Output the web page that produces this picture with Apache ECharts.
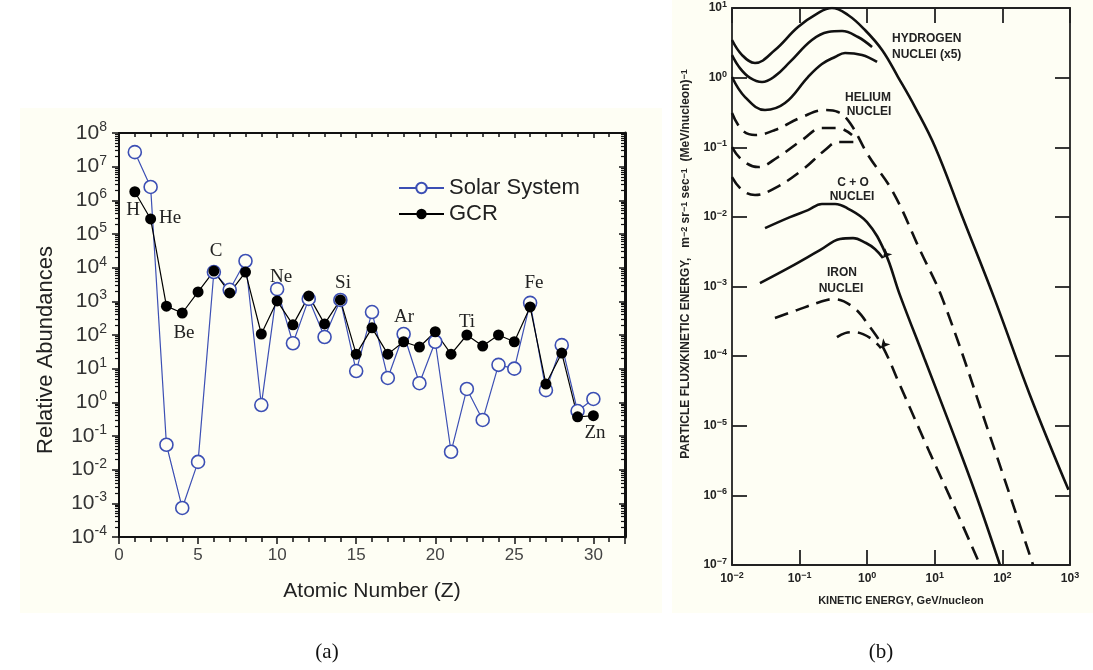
<!DOCTYPE html>
<html>
<head>
<meta charset="utf-8" />
<title>abundances and spectra</title>
<script src="https://cdn.jsdelivr.net/npm/echarts@6/dist/echarts.min.js"></script>
<style>
  html, body { margin: 0; padding: 0; background: #fff; }
  #chart { width: 1093px; height: 670px; }
</style>
</head>
<body>
<div id="chart"></div>
<script>
// ---- (a) relative abundances (Si = 10^3)
var atomicZ = [1,2,3,4,5,6,7,8,9,10,11,12,13,14,15,16,17,18,19,20,21,22,23,24,25,26,27,28,29,30];
var solarSystem = [2.7e7, 2.5e6, 0.055, 7.3e-4, 0.017, 7400, 2200, 15800, 0.83, 2300,
                   57, 1180, 87, 1100, 8.5, 480, 5.3, 107, 3.7, 63,
                   0.034, 2.5, 0.30, 13, 10, 900, 2.3, 50, 0.55, 1.26];
var gcr = [1.8e6, 2.8e5, 720, 450, 1900, 7900, 1780, 7400, 107, 1030,
           200, 1450, 214, 1100, 27, 163, 27, 63, 44, 125,
           27, 100, 47, 100, 63, 680, 3.5, 29, 0.37, 0.4];
var elementNames = ['H', 'He', 'Be', 'C', 'Ne', 'Si', 'Ar', 'Ti', 'Fe', 'Zn'];

// ---- (b) flux vs kinetic energy, [GeV/nucleon, flux]
var hydrogenA = [[0.01,3.47],[0.0141,2.11],[0.0219,1.62],[0.0432,2.49],[0.0946,5.33],[0.187,8.47],[0.301,10],
                 [0.52,7.93],[0.927,4.83],[1.66,2.49],[2.86,1.02],[5.1,0.378],[10.1,0.101],[25.3,0.0103],
                 [77.8,6.38e-4],[256,2.75e-5],[950,1.2e-6]];
var hydrogenB = [[0.01,2.11],[0.0131,1.37],[0.0185,0.99],[0.0278,0.865],[0.0432,1.05],[0.0721,1.68],
                 [0.152,3.47],[0.263,4.52],[0.424,4.67],[0.731,3.83],[1.18,2.75]];
var hydrogenC = [[0.01,1.02],[0.0156,0.526],[0.0308,0.342],[0.0608,0.431],[0.133,1.02],[0.214,1.57],
                 [0.334,1.98],[0.47,2.26],[0.838,2.11],[1.4,1.68]];
var heliumA = [[0.01,0.31],[0.0141,0.177],[0.0219,0.15],[0.0432,0.177],[0.109,0.272],[0.238,0.342],
               [0.37,0.321],[0.557,0.223],[1.03,0.0773],[2.41,0.0227],[6.04,3.33e-3],[13.2,6.38e-4],
               [65.6,7.1e-6],[284,1e-7]];
var heliumB = [[0.01,0.1007],[0.0141,0.0655],[0.0243,0.052],[0.0479,0.0723],[0.109,0.127],[0.214,0.189],
               [0.37,0.189],[0.596,0.15]];
var heliumC = [[0.01,0.0373],[0.0141,0.0243],[0.0219,0.0206],[0.0432,0.0259],[0.109,0.047],[0.238,0.0912],
               [0.37,0.119],[0.661,0.119]];
var carbonOxygenA = [[0.0308,6.9e-3],[0.0721,9.93e-3],[0.133,0.0125],[0.214,0.0153],[0.334,0.0153],
                     [0.502,0.0134],[0.993,8.4e-3],[1.83,3.12e-3],[3.05,7.52e-4],[7.16,8.77e-5],
                     [16.8,1.02e-5],[39.4,1.11e-6],[92,1e-7]];
var carbonOxygenB = [[0.0259,1.12e-3],[0.0721,1.9e-3],[0.2,3.33e-3],[0.396,4.8e-3],[0.617,4.96e-3],
                     [0.96,4.21e-3],[1.3,3.45e-3],[1.71,2.56e-3]];
var ironA = [[0.0432,3.52e-4],[0.0916,4.58e-4],[0.2,5.97e-4],[0.312,6.59e-4],[0.617,5.06e-4],[1.1,2.61e-4],
             [1.71,1.35e-4],[3.05,3.83e-5],[8.49,4.04e-6],[19.9,6.55e-7],[46.7,1e-7]];
var ironB = [[0.357,1.87e-4],[0.47,2.14e-4],[0.617,2.21e-4],[0.867,2.07e-4],[1.22,1.7e-4],[1.6,1.3e-4]];

var cream = '#fefef4';
var blue = '#3c4fb4';

// minor ticks of the log axis (a), in decades
var minorDecades = [];
for (var n = -4; n < 8; n++) {
  for (var k = 2; k <= 9; k++) minorDecades.push(n + Math.log10(k));
}
// major ticks of the log axis (a), in decades
var majorDecades = [];
for (var m = -4; m <= 8; m++) majorDecades.push(m);

function supA(v) {
  var e = Math.round(Math.log10(v));
  return '{b|10}{s|' + e + '}';
}
function supB(v) {
  var e = Math.round(Math.log10(v));
  return '{b|10}{s|' + (e < 0 ? '\u2212' + (-e) : e) + '}';
}

var richA = {
  b: { fontSize: 21, color: '#333', fontFamily: 'Liberation Sans', lineHeight: 26 },
  s: { fontSize: 14, color: '#333', fontFamily: 'Liberation Sans', lineHeight: 14, verticalAlign: 'top' }
};
var richB = {
  b: { fontSize: 12, color: '#222', fontFamily: 'Liberation Sans', fontWeight: 'bold', lineHeight: 16 },
  s: { fontSize: 9, color: '#222', fontFamily: 'Liberation Sans', fontWeight: 'bold', lineHeight: 9, verticalAlign: 'top' }
};

var axA = { onZero: false, lineStyle: { color: '#111', width: 2 } };
var axB = { onZero: false, lineStyle: { color: '#222', width: 1.8 } };

// arrowRot: optional arrowhead at the end of the curve (degrees)
function curve(data, dashed, arrowRot) {
  var pts = data.map(function (p, i) {
    if (arrowRot != null && i === data.length - 1) {
      return { value: p, symbol: 'arrow', symbolSize: [7, 9], symbolRotate: arrowRot, itemStyle: { color: '#111' } };
    }
    return { value: p, symbol: 'none' };
  });
  return {
    type: 'line', xAxisIndex: 2, yAxisIndex: 4, data: pts,
    showSymbol: true, smooth: 0.4, silent: true,
    lineStyle: { color: '#111', width: 2.6, type: dashed ? [14, 8] : 'solid' }
  };
}

var chart = echarts.init(document.getElementById('chart'));
var option = {
  backgroundColor: '#fff',
  animation: false,
  grid: [
    { left: 119, top: 133, width: 506, height: 404 },
    { left: 732, top: 8, width: 338, height: 557 }
  ],
  legend: {
    data: ['Solar System', 'GCR'],
    orient: 'vertical', left: 393, top: 172, itemWidth: 45, itemHeight: 13, itemGap: 4,
    textStyle: { fontSize: 22, fontFamily: 'Liberation Sans', color: '#222' }
  },
  xAxis: [
    { type: 'value', gridIndex: 0, min: 0, max: 32, interval: 5, position: 'bottom',
      axisLine: axA, splitLine: { show: false },
      axisTick: { inside: false, length: 7, lineStyle: { color: '#111', width: 1.5 } },
      minorTick: { show: true, splitNumber: 5, length: 5, lineStyle: { color: '#111', width: 1.5 } },
      axisLabel: { margin: 10, fontSize: 17, color: '#444', fontFamily: 'Liberation Sans', showMaxLabel: false },
      name: 'Atomic Number (Z)', nameLocation: 'middle', nameGap: 44,
      nameTextStyle: { fontSize: 21, color: '#222', fontFamily: 'Liberation Sans' } },
    { type: 'value', gridIndex: 0, min: 0, max: 32, interval: 5, position: 'top',
      axisLine: axA, splitLine: { show: false }, axisLabel: { show: false },
      axisTick: { inside: true, length: 5, lineStyle: { color: '#111', width: 1.5 } },
      minorTick: { show: true, splitNumber: 5, length: 4, lineStyle: { color: '#111', width: 1.5 } } },
    { type: 'log', gridIndex: 1, min: 0.01, max: 1000, splitNumber: 5, position: 'bottom',
      axisLine: axB, splitLine: { show: false },
      axisTick: { inside: true, length: 15, lineStyle: { color: '#222', width: 1.8 } },
      axisLabel: { margin: 6, formatter: supB, rich: richB, showMinLabel: true, showMaxLabel: true },
      name: 'KINETIC ENERGY, GeV/nucleon', nameLocation: 'middle', nameGap: 30,
      nameTextStyle: { fontSize: 11, fontWeight: 'bold', color: '#222', fontFamily: 'Liberation Sans' } },
    { type: 'log', gridIndex: 1, min: 0.01, max: 1000, splitNumber: 5, position: 'top',
      axisLine: axB, splitLine: { show: false }, axisLabel: { show: false },
      axisTick: { inside: true, length: 15, lineStyle: { color: '#222', width: 1.8 } } }
  ],
  yAxis: [
    { type: 'log', gridIndex: 0, min: 1e-4, max: 1e8, interval: 1, position: 'left',
      axisLine: axA, splitLine: { show: false }, axisTick: { show: false },
      axisLabel: { margin: 12, formatter: supA, rich: richA } },
    { type: 'value', gridIndex: 0, min: -4, max: 8, position: 'left',
      axisLine: { show: false, onZero: false }, splitLine: { show: false }, axisLabel: { show: false },
      axisTick: { inside: false, length: 4, customValues: minorDecades, lineStyle: { color: '#111', width: 1.2 } } },
    { type: 'value', gridIndex: 0, min: -4, max: 8, position: 'left',
      axisLine: { show: false, onZero: false }, splitLine: { show: false }, axisLabel: { show: false },
      axisTick: { inside: false, length: 7, customValues: majorDecades, lineStyle: { color: '#111', width: 1.5 } } },
    { type: 'value', gridIndex: 0, min: -4, max: 8, position: 'right',
      axisLine: { onZero: false, lineStyle: { color: '#111', width: 3 } }, splitLine: { show: false }, axisLabel: { show: false },
      axisTick: { inside: true, length: 6, customValues: majorDecades, lineStyle: { color: '#111', width: 1.5 } } },
    { type: 'log', gridIndex: 1, min: 1e-7, max: 10, splitNumber: 8, position: 'left',
      axisLine: axB, splitLine: { show: false },
      axisTick: { inside: true, length: 15, lineStyle: { color: '#222', width: 1.8 } },
      axisLabel: { margin: 5, formatter: supB, rich: richB, showMinLabel: true, showMaxLabel: true } },
    { type: 'log', gridIndex: 1, min: 1e-7, max: 10, splitNumber: 8, position: 'right',
      axisLine: axB, splitLine: { show: false }, axisLabel: { show: false },
      axisTick: { inside: true, length: 15, lineStyle: { color: '#222', width: 1.8 } } },
    { type: 'value', gridIndex: 0, min: -4, max: 8, position: 'right',
      axisLine: { show: false, onZero: false }, splitLine: { show: false }, axisLabel: { show: false },
      axisTick: { inside: true, length: 4, customValues: minorDecades, lineStyle: { color: '#111', width: 1.2 } } }
  ],
  series: [
    { name: 'Solar System', type: 'line', xAxisIndex: 0, yAxisIndex: 0,
      data: atomicZ.map(function (z, i) { return [z, solarSystem[i]]; }),
      symbol: 'circle', symbolSize: 13,
      itemStyle: { color: cream, borderColor: blue, borderWidth: 1.6 },
      lineStyle: { color: blue, width: 1.2 } },
    { name: 'GCR', type: 'line', xAxisIndex: 0, yAxisIndex: 0,
      data: atomicZ.map(function (z, i) { return [z, gcr[i]]; }),
      symbol: 'circle', symbolSize: 11,
      itemStyle: { color: '#000' },
      lineStyle: { color: '#000', width: 1.2 } },
    curve(hydrogenA, false), curve(hydrogenB, false), curve(hydrogenC, false),
    curve(heliumA, true), curve(heliumB, true), curve(heliumC, true),
    curve(carbonOxygenA, false), curve(carbonOxygenB, false, 140),
    curve(ironA, true), curve(ironB, true, 140)
  ],
  graphic: [
    { type: 'rect', z: -100, shape: { x: 20, y: 108, width: 642, height: 505 }, style: { fill: cream } },
    { type: 'rect', z: -100, shape: { x: 672, y: 0, width: 421, height: 613 }, style: { fill: cream } },
    { type: 'text', x: 46, y: 350, rotation: Math.PI / 2,
      style: { text: 'Relative Abundances', font: '22px "Liberation Sans"', fill: '#222', align: 'center', verticalAlign: 'middle' } },
    { type: 'text', x: 686, y: 264, rotation: Math.PI / 2,
      style: { text: 'PARTICLE FLUX/KINETIC ENERGY,   m{s|\u22122} sr{s|\u22121} sec{s|\u22121}  (MeV/nucleon){s|\u22121}',
               font: 'bold 12px "Liberation Sans"', fill: '#222', align: 'center', verticalAlign: 'middle',
               rich: { s: { fontSize: 9, fontWeight: 'bold', fontFamily: 'Liberation Sans', fill: '#222', verticalAlign: 'top', lineHeight: 9 } } } },
    { type: 'text', x: 892, y: 39, style: { text: 'HYDROGEN', font: 'bold 12px "Liberation Sans"', fill: '#222', align: 'left', verticalAlign: 'middle' } },
    { type: 'text', x: 892, y: 55, style: { text: 'NUCLEI (x5)', font: 'bold 12px "Liberation Sans"', fill: '#222', align: 'left', verticalAlign: 'middle' } },
    { type: 'text', x: 868, y: 98, style: { text: 'HELIUM', font: 'bold 12px "Liberation Sans"', fill: '#222', align: 'center', verticalAlign: 'middle' } },
    { type: 'text', x: 869, y: 112, style: { text: 'NUCLEI', font: 'bold 12px "Liberation Sans"', fill: '#222', align: 'center', verticalAlign: 'middle' } },
    { type: 'text', x: 853, y: 183, style: { text: 'C + O', font: 'bold 12px "Liberation Sans"', fill: '#222', align: 'center', verticalAlign: 'middle' } },
    { type: 'text', x: 852, y: 197, style: { text: 'NUCLEI', font: 'bold 12px "Liberation Sans"', fill: '#222', align: 'center', verticalAlign: 'middle' } },
    { type: 'text', x: 842, y: 273, style: { text: 'IRON', font: 'bold 12px "Liberation Sans"', fill: '#222', align: 'center', verticalAlign: 'middle' } },
    { type: 'text', x: 841, y: 289, style: { text: 'NUCLEI', font: 'bold 12px "Liberation Sans"', fill: '#222', align: 'center', verticalAlign: 'middle' } },
    { type: 'text', x: 327, y: 652, style: { text: '(a)', font: '21px "Liberation Serif"', fill: '#111', align: 'center', verticalAlign: 'middle' } },
    { type: 'text', x: 881, y: 652, style: { text: '(b)', font: '21px "Liberation Serif"', fill: '#111', align: 'center', verticalAlign: 'middle' } }
  ]
};

// element labels, panel (a)
var namePos = [[133,210],[170,218],[184,333],[216,251],[281,277],[343,283],[404,317],[467,322],[534,283],[595,433]];
elementNames.forEach(function (nm, i) {
  option.graphic.push({ type: 'text', x: namePos[i][0], y: namePos[i][1],
    style: { text: nm, font: '19px "Liberation Serif"', fill: '#222', align: 'center', verticalAlign: 'middle' } });
});

chart.setOption(option);
</script>
</body>
</html>
